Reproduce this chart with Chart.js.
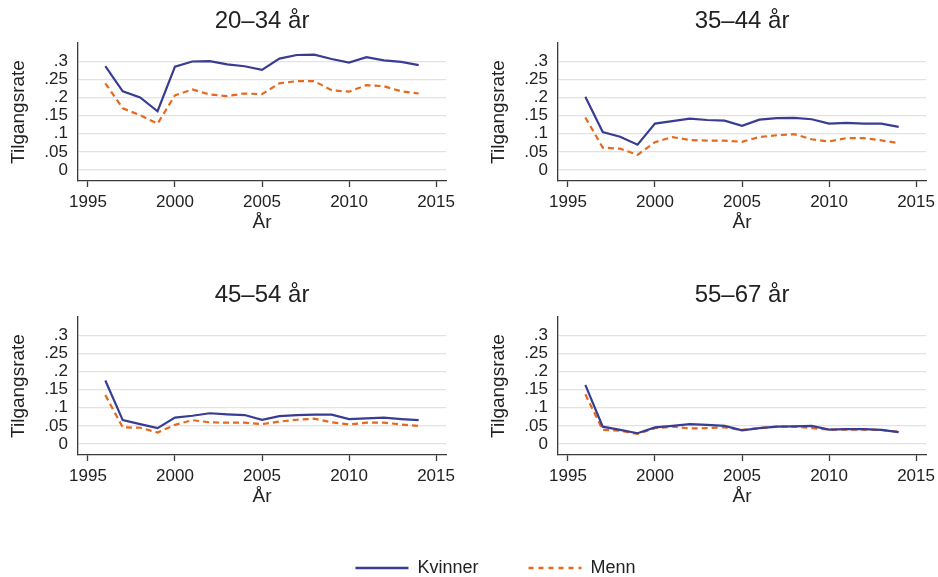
<!DOCTYPE html>
<html>
<head>
<meta charset="utf-8">
<script src="https://cdn.jsdelivr.net/npm/chart.js@4"></script>
<style>
  html, body { margin: 0; padding: 0; background: #ffffff; }
  #page { position: relative; width: 938px; height: 577px; overflow: hidden; background: #ffffff; }
  canvas { position: absolute; }
</style>
</head>
<body>
<div id="page">
  <canvas id="p0" width="470" height="240" style="left:0px;top:0px"></canvas>
  <canvas id="p1" width="470" height="240" style="left:480px;top:0px"></canvas>
  <canvas id="p2" width="470" height="240" style="left:0px;top:274px"></canvas>
  <canvas id="p3" width="470" height="240" style="left:480px;top:274px"></canvas>
  <canvas id="legend" width="938" height="160" style="left:0px;top:509px"></canvas>
</div>
<script>
// Years observed
const years = [1996, 1997, 1998, 1999, 2000, 2001, 2002, 2003, 2004, 2005,
               2006, 2007, 2008, 2009, 2010, 2011, 2012, 2013, 2014];

// Panel titles (age groups)
const panelTitles = ['20–34 år', '35–44 år', '45–54 år', '55–67 år'];

// Series labels
const seriesLabels = ['Kvinner', 'Menn'];

// Intake rate, women
const kvinner2034 = [0.286, 0.217, 0.200, 0.162, 0.285, 0.299, 0.300, 0.291, 0.286, 0.276,
                     0.307, 0.317, 0.318, 0.306, 0.296, 0.311, 0.302, 0.298, 0.289];
const kvinner3544 = [0.202, 0.105, 0.092, 0.070, 0.128, 0.135, 0.142, 0.138, 0.136, 0.122,
                     0.139, 0.143, 0.144, 0.140, 0.128, 0.130, 0.128, 0.128, 0.119];
const kvinner4554 = [0.175, 0.066, 0.055, 0.044, 0.073, 0.078, 0.085, 0.082, 0.080, 0.067,
                     0.077, 0.080, 0.081, 0.081, 0.069, 0.071, 0.073, 0.069, 0.066];
const kvinner5567 = [0.163, 0.048, 0.039, 0.030, 0.046, 0.050, 0.055, 0.053, 0.050, 0.038,
                     0.044, 0.048, 0.049, 0.050, 0.040, 0.041, 0.041, 0.039, 0.033];

// Intake rate, men
const menn2034 = [0.239, 0.170, 0.151, 0.128, 0.206, 0.222, 0.208, 0.204, 0.211, 0.209,
                  0.239, 0.245, 0.245, 0.220, 0.216, 0.234, 0.231, 0.217, 0.211];
const menn3544 = [0.145, 0.062, 0.059, 0.042, 0.077, 0.091, 0.083, 0.081, 0.081, 0.078,
                  0.091, 0.096, 0.099, 0.085, 0.079, 0.088, 0.088, 0.082, 0.074];
const menn4554 = [0.135, 0.046, 0.045, 0.032, 0.053, 0.066, 0.060, 0.059, 0.059, 0.055,
                  0.062, 0.067, 0.070, 0.060, 0.054, 0.059, 0.059, 0.054, 0.050];
const menn5567 = [0.137, 0.039, 0.037, 0.028, 0.044, 0.048, 0.043, 0.044, 0.046, 0.039,
                  0.044, 0.048, 0.048, 0.044, 0.040, 0.040, 0.040, 0.039, 0.034];

// Axis ticks
const xTickValues = [1995, 2000, 2005, 2010, 2015];
const yTickValues = [0, 0.05, 0.1, 0.15, 0.2, 0.25, 0.3];
const yTickLabels = ['0', '.05', '.1', '.15', '.2', '.25', '.3'];

const yTitle = 'Tilgangsrate';
const xTitle = 'År';

const panels = [
  [kvinner2034, menn2034],
  [kvinner3544, menn3544],
  [kvinner4554, menn4554],
  [kvinner5567, menn5567]
];

const FONT = '"Liberation Sans", Arial, Helvetica, sans-serif';
const TEXT = '#222222';
const AXIS = '#3a3a3a';
const GRID = '#e2e2e2';
const BLUE = '#383c92';
const ORANGE = '#e56a1f';

Chart.defaults.font.family = FONT;
Chart.defaults.color = TEXT;
Chart.defaults.animation = false;

// Panel heading, centred over the plot region
const panelTitle = {
  id: 'panelTitle',
  afterDraw(chart, args, opts) {
    if (!opts || !opts.text) return;
    const { ctx, chartArea } = chart;
    ctx.save();
    ctx.font = '24px ' + FONT;
    ctx.fillStyle = TEXT;
    ctx.textAlign = 'center';
    ctx.textBaseline = 'middle';
    ctx.fillText(opts.text, (chartArea.left + chartArea.right) / 2, opts.y);
    ctx.restore();
  }
};

function toPoints(values) {
  return values.map((v, i) => ({ x: years[i], y: v }));
}

panels.forEach((series, idx) => {
  new Chart(document.getElementById('p' + idx), {
    type: 'line',
    data: {
      datasets: [
        {
          label: seriesLabels[0],
          data: toPoints(series[0]),
          borderColor: BLUE,
          borderWidth: 2.2,
          pointRadius: 0,
          tension: 0,
          fill: false
        },
        {
          label: seriesLabels[1],
          data: toPoints(series[1]),
          borderColor: ORANGE,
          borderWidth: 2.2,
          borderDash: [6, 4],
          pointRadius: 0,
          tension: 0,
          fill: false
        }
      ]
    },
    plugins: [panelTitle],
    options: {
      responsive: false,
      devicePixelRatio: 1,
      layout: { padding: { left: 0, right: 24, top: 43, bottom: 0 } },
      plugins: {
        legend: { display: false },
        tooltip: { enabled: false },
        panelTitle: { text: panelTitles[idx], y: 21 }
      },
      scales: {
        x: {
          type: 'linear',
          min: 1994.43,
          max: 2015.57,
          afterFit(scale) { scale.height = 240 - 181; },
          afterBuildTicks(scale) { scale.ticks = xTickValues.map(v => ({ value: v })); },
          ticks: {
            includeBounds: false,
            padding: 5,
            font: { size: 17 },
            color: TEXT,
            maxRotation: 0,
            autoSkip: false,
            callback: (v) => String(v)
          },
          grid: {
            drawOnChartArea: false,
            drawTicks: true,
            tickLength: 6,
            tickColor: AXIS,
            tickWidth: 1.3
          },
          border: { display: true, color: AXIS, width: 1.3 },
          title: {
            display: true,
            text: xTitle,
            font: { size: 19 },
            color: TEXT,
            padding: { top: 0, bottom: 6 }
          }
        },
        y: {
          type: 'linear',
          min: -0.03,
          max: 0.35,
          afterFit(scale) { scale.width = 78; },
          afterBuildTicks(scale) { scale.ticks = yTickValues.map(v => ({ value: v })); },
          ticks: {
            padding: 10,
            font: { size: 17 },
            color: TEXT,
            autoSkip: false,
            callback: (v) => {
              const k = yTickValues.findIndex(t => Math.abs(t - v) < 1e-9);
              return k >= 0 ? yTickLabels[k] : '';
            }
          },
          grid: {
            drawOnChartArea: true,
            drawTicks: false,
            color: GRID,
            lineWidth: 1.3
          },
          border: { display: true, color: AXIS, width: 1.3 },
          title: {
            display: true,
            text: yTitle,
            font: { size: 19 },
            color: TEXT,
            padding: { top: 7, bottom: 0 }
          }
        }
      }
    }
  });
});

// Shared legend beneath the panels
new Chart(document.getElementById('legend'), {
  type: 'line',
  data: {
    datasets: [
      { label: seriesLabels[0], data: [], borderColor: BLUE, borderWidth: 2.5 },
      { label: seriesLabels[1], data: [], borderColor: ORANGE, borderWidth: 2.5, borderDash: [5, 5] }
    ]
  },
  options: {
    responsive: false,
    devicePixelRatio: 1,
    layout: { padding: { left: 53, right: 0, top: 0, bottom: 0 } },
    scales: { x: { display: false }, y: { display: false } },
    plugins: {
      tooltip: { enabled: false },
      legend: {
        display: true,
        position: 'top',
        labels: {
          usePointStyle: true,
          pointStyle: 'line',
          pointStyleWidth: 53,
          padding: 50,
          font: { size: 18 },
          color: TEXT,
          generateLabels(chart) {
            return chart.data.datasets.map((ds, i) => ({
              text: ds.label,
              strokeStyle: ds.borderColor,
              fillStyle: ds.borderColor,
              lineWidth: ds.borderWidth,
              lineDash: ds.borderDash || [],
              lineCap: 'butt',
              pointStyle: 'line',
              hidden: false,
              datasetIndex: i,
              fontColor: TEXT
            }));
          }
        }
      }
    }
  }
});
</script>
</body>
</html>
